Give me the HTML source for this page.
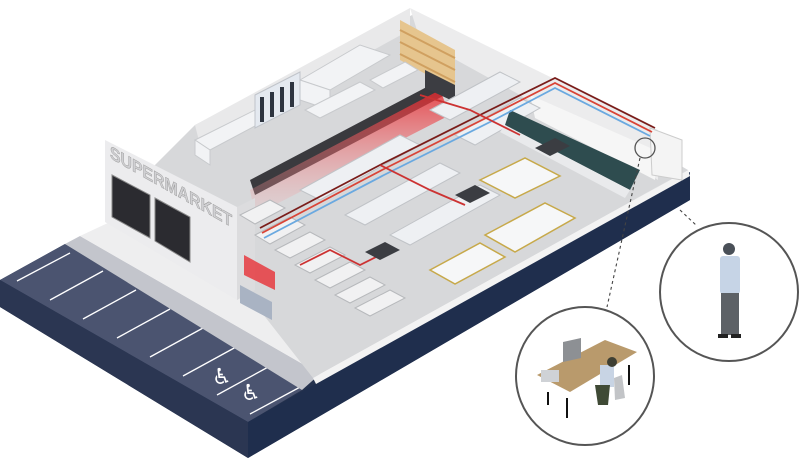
<!DOCTYPE html>
<html><head><meta charset="utf-8"><style>
html,body{margin:0;padding:0;background:#fff;}
svg{display:block;}
</style></head><body>
<svg width="800" height="460" viewBox="0 0 800 460" xmlns="http://www.w3.org/2000/svg" font-family="Liberation Sans, sans-serif">
<defs>
<linearGradient id="rg" x1="0" y1="0" x2="0" y2="1"><stop offset="0" stop-color="#e8262b"/><stop offset="1" stop-color="#f4b0b2" stop-opacity="0.2"/></linearGradient>
</defs>
<polygon points="0,280 65,244 313,380 688,170 690,200 248,458 0,307" fill="#25324e"/>
<polygon points="0,280 248,422 302,390 65,244" fill="#4b5470"/>
<polygon points="248,422 248,458 0,307 0,280" fill="#2b3652"/>
<polygon points="248,422 690,172 690,200 248,458" fill="#1f2e4d"/>
<g stroke="#fff" stroke-width="1.3">
<line x1="17" y1="281" x2="70" y2="253"/><line x1="50" y1="300" x2="103" y2="271"/><line x1="83" y1="319" x2="136" y2="290"/><line x1="117" y1="338" x2="170" y2="309"/><line x1="150" y1="357" x2="203" y2="328"/><line x1="183" y1="376" x2="236" y2="347"/><line x1="217" y1="395" x2="270" y2="366"/><line x1="250" y1="414" x2="302" y2="386"/>
</g>
<text x="212" y="384" fill="#fff" font-size="22" font-family="DejaVu Sans, sans-serif">♿</text>
<text x="241" y="400" fill="#fff" font-size="22" font-family="DejaVu Sans, sans-serif">♿</text>
<polygon points="65,244 80,236 320,374 302,390" fill="#c3c5cc"/>
<polygon points="80,236 110,222 330,350 320,374" fill="#eeeeef"/>
<polygon points="150,170 313,378 688,170 418,12 195,125" fill="#d7d8da"/>
<polygon points="313,378 688,170 690,176 316,384" fill="#f3f3f3"/>
<polygon points="195,125 410,8 410,30 200,145" fill="#e9e9ea"/>
<polygon points="410,8 658,130 658,180 520,95 420,40" fill="#ececed"/>
<polygon points="530,95 655,150 655,180 535,118" fill="#f6f6f6"/>
<polygon points="650,128 682,140 682,180 652,175" fill="#f4f4f4" stroke="#ccc"/>
<g fill="#e6c58e"><polygon points="400,20 455,50 455,90 400,60"/></g>
<g stroke="#d0a060" stroke-width="2"><line x1="400" y1="30" x2="455" y2="58"/><line x1="400" y1="42" x2="455" y2="70"/><line x1="400" y1="54" x2="455" y2="82"/></g>
<g fill="#f2f3f5" stroke="#c8cacd">
<polygon points="195,140 255,110 270,118 210,150"/><polygon points="195,140 210,150 210,165 195,155"/>
<polygon points="300,80 360,45 390,55 330,90"/><polygon points="300,80 330,90 330,110 300,100"/>
<polygon points="305,110 360,82 375,90 320,118"/>
<polygon points="370,80 405,62 418,70 383,88"/>
</g>
<polygon points="255,95 300,72 300,105 255,128" fill="#e4e9f0" stroke="#c0c4ca"/>
<g stroke="#2d3440" stroke-width="4"><line x1="262" y1="97" x2="262" y2="122"/><line x1="272" y1="92" x2="272" y2="117"/><line x1="282" y1="87" x2="282" y2="112"/><line x1="292" y1="82" x2="292" y2="107"/></g>
<polygon points="250,180 440,80 445,95 255,195" fill="#3a3a3e"/>
<polygon points="250,190 440,90 450,115 255,215" fill="url(#rg)" opacity="0.8"/>
<polygon points="425,70 455,85 455,102 425,88" fill="#3c3d42"/>
<polygon points="105,140 237,207 237,300 105,222" fill="#ececee"/>
<polygon points="237,207 255,198 255,290 237,300" fill="#dcdcde"/>
<text x="0" y="0" font-size="18" font-weight="bold" fill="#d0d0d3" stroke="#999" stroke-width="0.5" transform="matrix(0.88,0.5,0,1,110,158)">SUPERMARKET</text>
<g fill="#2b2b30" stroke="#888">
<polygon points="112,175 150,195 150,238 112,217"/>
<polygon points="155,198 190,217 190,262 155,241"/>
</g>
<polygon points="244,255 275,272 275,290 244,275" fill="#e8262b" opacity="0.75"/>
<polygon points="240,285 272,302 272,320 240,303" fill="#a9b3c3"/>
<g fill="#f1f1f2" stroke="#b7b9bc">
<polygon points="240,215 270,200 285,208 255,224"/>
<polygon points="255,235 290,217 305,225 270,244"/>
<polygon points="275,250 310,232 325,240 290,258"/>
<polygon points="295,265 330,247 345,255 310,273"/>
<polygon points="315,280 350,262 365,270 330,288"/>
<polygon points="335,295 370,277 385,285 350,303"/>
<polygon points="355,308 390,290 405,298 370,316"/>
</g>
<g fill="#eef0f3" stroke="#c0c3c7">
<polygon points="300,190 400,135 420,145 320,200"/>
<polygon points="345,215 440,163 460,173 365,225"/>
<polygon points="390,235 480,185 500,195 410,245"/>
<polygon points="430,110 500,72 520,82 450,120"/>
<polygon points="455,135 520,98 540,108 475,145"/>
</g>
<g fill="#f6f7f8" stroke="#c7a94a" stroke-width="1.5">
<polygon points="480,180 525,158 560,176 515,198"/>
<polygon points="485,235 545,203 575,218 515,252"/>
<polygon points="430,270 480,243 505,257 455,284"/>
</g>
<polygon points="510,110 640,170 630,190 505,125" fill="#2e4c4f"/>
<polygon points="505,125 630,190 625,198 500,132" fill="#e9eaec"/>
<g fill="none" stroke-width="1.8">
<polyline points="260,228 380,165 490,110 555,78 655,128" stroke="#7a1d1a"/>
<polyline points="262,233 382,170 492,115 555,83 652,132" stroke="#d94437"/>
<polyline points="264,238 384,175 494,120 555,88 650,136" stroke="#6aa9e0"/>
<polyline points="300,265 330,250 360,265 390,250" stroke="#c33"/>
<polyline points="380,165 430,190 465,205" stroke="#c33"/>
<polyline points="420,95 470,110 520,135" stroke="#c33"/>
</g>
<g fill="#3b3d42">
<polygon points="365,252 385,242 400,250 380,260"/>
<polygon points="455,195 475,185 490,193 470,203"/>
<polygon points="535,148 555,138 570,146 550,156"/>
</g>
<circle cx="645" cy="148" r="10" fill="none" stroke="#555" stroke-width="1.3"/>
<g stroke="#444" stroke-dasharray="3,3" stroke-width="1.1">
<line x1="640" y1="158" x2="607" y2="307"/><line x1="680" y1="210" x2="697" y2="226"/>
</g>
<circle cx="585" cy="376" r="69" fill="#fff" stroke="#555" stroke-width="2"/>
<circle cx="729" cy="292" r="69" fill="#fff" stroke="#555" stroke-width="2"/>
<polygon points="537,375 605,340 637,352 570,392" fill="#b99a6c"/>
<g stroke="#111" stroke-width="2"><line x1="548" y1="392" x2="548" y2="405"/><line x1="567" y1="398" x2="567" y2="418"/><line x1="629" y1="365" x2="629" y2="385"/></g>
<polygon points="563,342 581,338 581,358 563,362" fill="#8d9094"/>
<rect x="541" y="370" width="18" height="12" fill="#cfd2d6"/>
<rect x="600" y="365" width="14" height="22" fill="#c8d4e4"/>
<circle cx="612" cy="362" r="5" fill="#3e3f33"/>
<polygon points="595,385 610,385 608,405 598,405" fill="#3f4a35"/>
<polygon points="614,378 622,375 625,398 615,400" fill="#c2c4c7"/>
<circle cx="729" cy="249" r="6" fill="#4a5058"/>
<rect x="720" y="256" width="20" height="38" rx="3" fill="#c6d4e6"/>
<rect x="721" y="293" width="18" height="42" fill="#5d6166"/>
<rect x="718" y="334" width="10" height="4" fill="#222"/><rect x="731" y="334" width="10" height="4" fill="#222"/>
</svg>
</body></html>
